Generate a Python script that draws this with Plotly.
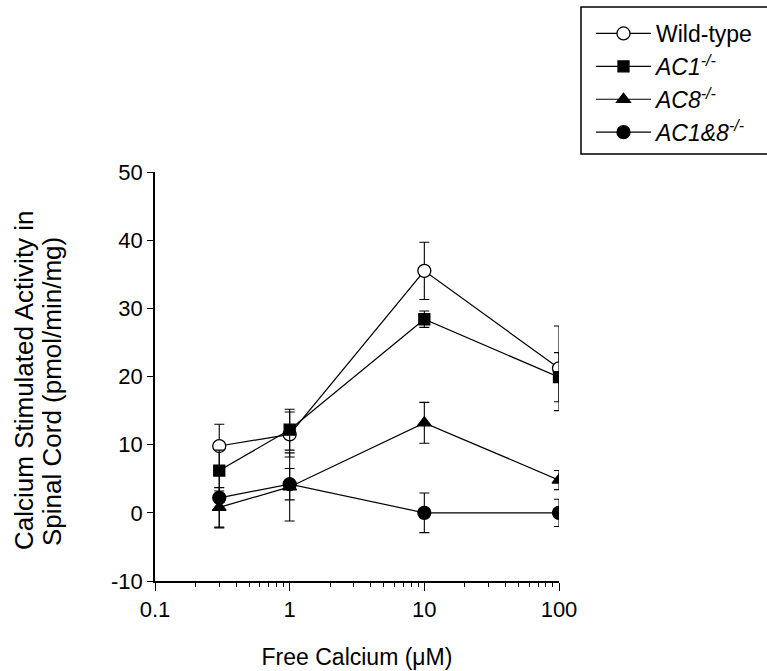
import plotly.graph_objects as go

calcium = [0.3, 1, 10, 100]

wt = [9.8, 11.5, 35.5, 21.2]
wt_err = [3.2, 3.3, 4.2, 6.2]
ac1 = [6.2, 12.2, 28.4, 19.9]
ac1_err = [3.0, 3.0, 1.2, 3.6]
ac8 = [0.8, 3.8, 13.2, 4.8]
ac8_err = [2.9, 5.0, 3.0, 1.4]
ac18 = [2.2, 4.2, 0.0, 0.0]
ac18_err = [4.4, 2.3, 2.9, 2.0]

names = ["Wild-type", "<i>AC1<sup>-/-</sup></i>", "<i>AC8<sup>-/-</sup></i>", "<i>AC1&8<sup>-/-</sup></i>"]
series = [wt, ac1, ac8, ac18]
errors = [wt_err, ac1_err, ac8_err, ac18_err]
symbols = ["circle", "square", "triangle-up", "circle"]
fills = ["white", "black", "black", "black"]
sizes = [13, 11, 12, 13]

x_ticks = [0.1, 1, 10, 100]
x_labels = ["0.1", "1", "10", "100"]
y_ticks = [-10, 0, 10, 20, 30, 40, 50]
y_labels = ["-10", "0", "10", "20", "30", "40", "50"]
y_title_lines = ["Calcium Stimulated Activity in", "Spinal Cord (pmol/min/mg)"]

FONT = "Arial, 'Liberation Sans', sans-serif"
FS = 22

W, H = 767, 671
ML, MR, MT, MB = 155, 208, 172, 90
PW, PH = W - ML - MR, H - MT - MB


def px_x(p):
    return (p - ML) / PW


def px_y(p):
    return (H - MB - p) / PH


fig = go.Figure()
for name, ys, es, sym, fc, sz in zip(names, series, errors, symbols, fills, sizes):
    fig.add_trace(go.Scatter(
        x=calcium, y=ys, name=name, mode="lines+markers",
        line=dict(color="black", width=1.2),
        marker=dict(symbol=sym, size=sz, color=fc, line=dict(color="black", width=1.3)),
        error_y=dict(type="data", array=es, visible=True, color="black", thickness=1.1, width=5),
    ))

# legend frame (right edge runs off the page as in the reference)
fig.add_shape(type="rect", xref="paper", yref="paper",
              x0=px_x(581), x1=px_x(775), y0=px_y(154), y1=px_y(7),
              line=dict(color="black", width=1.5), fillcolor="rgba(0,0,0,0)", layer="above")

# y-axis title as two rotated lines
for txt, cx, cy in zip(y_title_lines, [23.5, 52], [380.5, 392]):
    fig.add_annotation(text=txt, xref="paper", yref="paper", x=px_x(cx), y=px_y(cy),
                       xanchor="center", yanchor="middle", textangle=-90, showarrow=False,
                       font=dict(family=FONT, size=26, color="black"))

fig.update_layout(
    width=W, height=H,
    paper_bgcolor="white", plot_bgcolor="white",
    margin=dict(l=ML, r=MR, t=MT, b=MB, autoexpand=False),
    font=dict(family=FONT, size=FS, color="black"),
    showlegend=True,
    legend=dict(
        xref="container", yref="container",
        x=591 / W, y=1 - 12 / H, xanchor="left", yanchor="top",
        borderwidth=0, bgcolor="rgba(0,0,0,0)",
        font=dict(family=FONT, size=23, color="black"),
        tracegroupgap=0, itemwidth=55,
    ),
    xaxis=dict(
        type="log", range=[-1, 2],
        tickmode="array", tickvals=x_ticks, ticktext=x_labels,
        ticks="outside", ticklen=8, tickwidth=1.2, tickcolor="black",
        minor=dict(ticks="outside", ticklen=4, tickwidth=1, tickcolor="black", dtick="D1"),
        showline=True, linecolor="black", linewidth=1.5,
        showgrid=False, zeroline=False,
        tickfont=dict(size=FS),
        title=dict(text="Free Calcium (μM)", font=dict(size=23), standoff=28),
    ),
    yaxis=dict(
        range=[-10, 50],
        tickmode="array", tickvals=y_ticks, ticktext=y_labels,
        ticks="outside", ticklen=6, tickwidth=1.2, tickcolor="black",
        showline=True, linecolor="black", linewidth=1.5,
        showgrid=False, zeroline=False,
        tickfont=dict(size=FS),
    ),
)

fig.write_html("out.html", config={"displayModeBar": False},
               post_script="document.body.style.margin='0';document.body.style.padding='0';")
